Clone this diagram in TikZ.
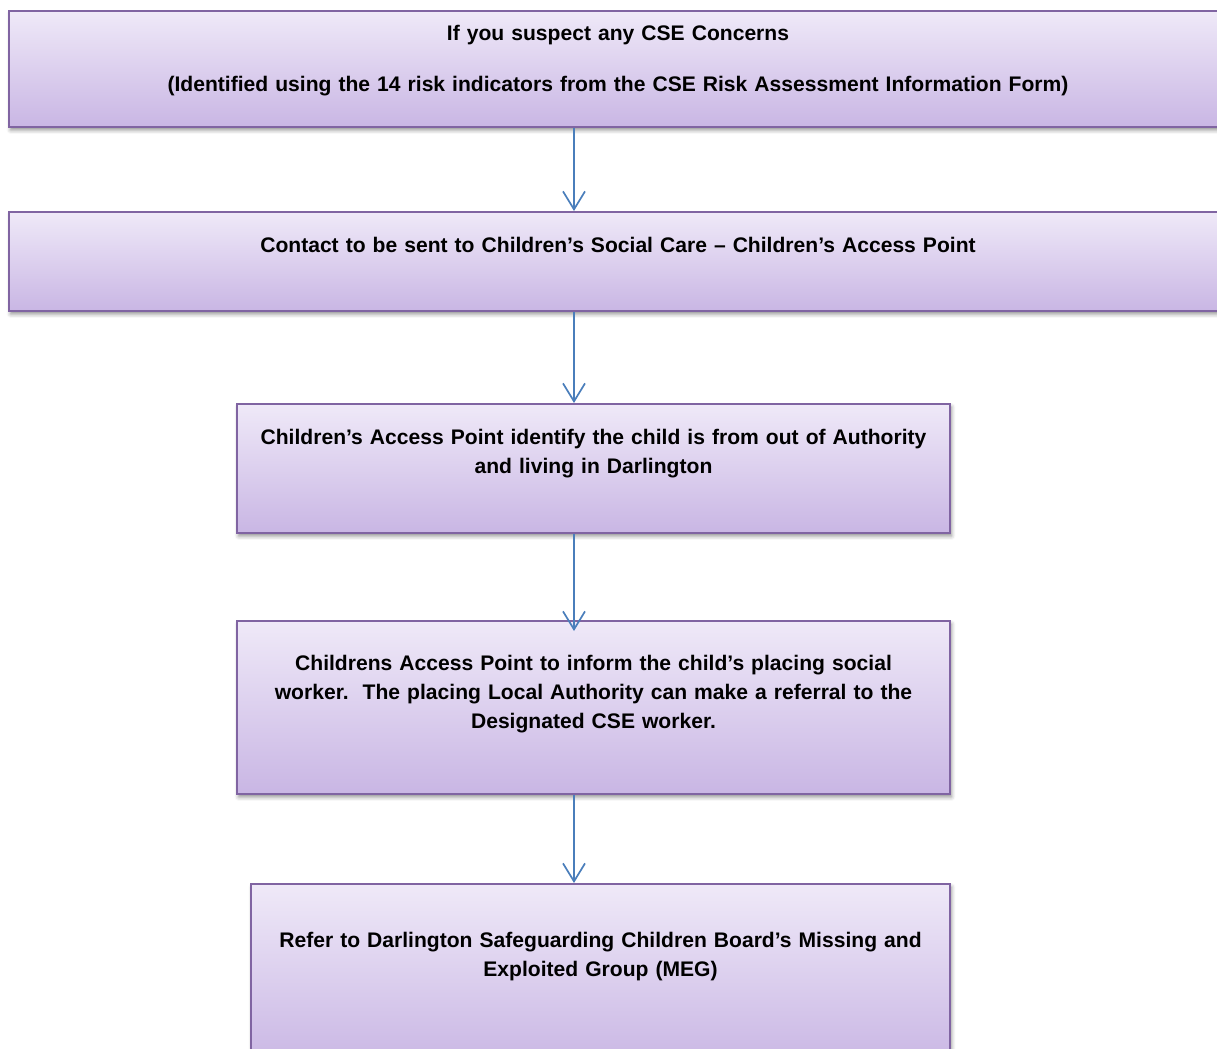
\documentclass[tikz,border=0pt]{standalone}
\usepackage{fontspec}
\setmainfont{Liberation Sans}
\usepackage{tikz}
\usetikzlibrary{arrows.meta, shadows.blur}
\definecolor{boxtop}{HTML}{EFE9F8}
\definecolor{boxbottom}{HTML}{C9B6E4}
\definecolor{boxline}{HTML}{8064A2}
\definecolor{arrowline}{HTML}{4A7EBB}
\tikzset{
x=0.02cm, y=-0.02cm,
>={Straight Barb[length=0.36cm, width=0.44cm]},
box/.style={%
    rectangle,
    anchor=north,
    inner sep=0pt,
    draw=boxline,
    line width=0.04cm,
    top color=boxtop,
    bottom color=boxbottom,
    blur shadow={shadow xshift=0.03cm, shadow yshift=-0.06cm,
        shadow blur radius=0.08cm, shadow opacity=45},
    align=center,
    % Font
    font=\bfseries\fontsize{12pt}{16.3pt}\selectfont
},
flow/.style={->, draw=arrowline, line width=0.034cm},
}

\begin{document}
\begin{tikzpicture}
	\useasboundingbox (0,0) rectangle (1217,1048);
	\node[box, text width=24.36cm, text height=0.6cm, text depth=1.72cm] (concern) at (618,10)
		{If you suspect any CSE Concerns\\[0.43cm](Identified using the 14 risk indicators from the CSE Risk Assessment Information Form)};
	\node[box, text width=24.36cm, text height=0.82cm, text depth=1.16cm] (contact) at (618,211)
		{Contact to be sent to Children’s Social Care – Children’s Access Point};
	\node[box, text width=14.26cm, text height=0.82cm, text depth=1.76cm] (cap) at (593.5,403)
		{Children’s Access Point identify the child is from out of Authority\\and living in Darlington};
	\node[box, text width=14.26cm, text height=1.0cm, text depth=2.46cm] (inform) at (593.5,620)
		{Childrens Access Point to inform the child’s placing social\\worker.\ \ The placing Local Authority can make a referral to the\\Designated CSE worker.};
	\node[box, text width=13.98cm, text height=1.28cm, text depth=2.36cm] (meg) at (600.5,883)
		{Refer to Darlington Safeguarding Children Board’s Missing and\\Exploited Group (MEG)};
	\coordinate (axis) at (574,0);

	\foreach \a/\b/\s in {concern/contact/0cm, contact/cap/0cm, cap/inform/-0.22cm, inform/meg/0cm}
		\draw[flow, shorten >=\s] (\a.south -| axis) -- (\b.north -| axis);
\end{tikzpicture}
\end{document}
